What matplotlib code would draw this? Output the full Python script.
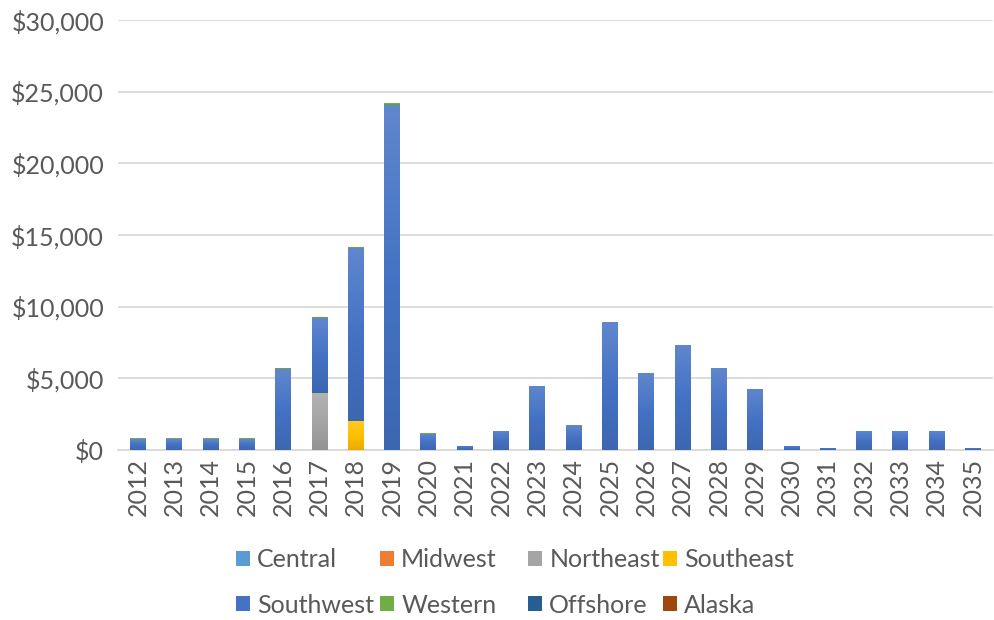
import matplotlib
matplotlib.use("Agg")
import matplotlib.pyplot as plt
import matplotlib.colors as mcolors
import numpy as np

years = [str(y) for y in range(2012, 2036)]
central   = [0]*24
midwest   = [0]*24
northeast = [0,0,0,0,0,4000,0,0,0,0,0,0,0,0,0,0,0,0,0,0,0,0,0,0]
southeast = [0,0,0,0,0,0,2000,0,0,0,0,0,0,0,0,0,0,0,0,0,0,0,0,0]
southwest = [750,750,750,750,5650,5200,12100,24080,1140,280,1330,4470,1740,8930,5370,7330,5720,4260,300,140,1330,1330,1330,140]
western   = [60,60,60,60,100,80,80,150,60,0,0,0,0,0,0,0,0,0,0,0,0,0,0,0]
offshore  = [0]*24
alaska    = [0]*24

series = [("Central", central, "#5B9BD5"), ("Midwest", midwest, "#ED7D31"),
          ("Northeast", northeast, "#A5A5A5"), ("Southeast", southeast, "#FFC000"),
          ("Southwest", southwest, "#4472C4"), ("Western", western, "#70AD47"),
          ("Offshore", offshore, "#255E91"), ("Alaska", alaska, "#9E480E")]

plt.rcParams['font.family'] = ['Lato', 'DejaVu Sans']
fig = plt.figure(figsize=(9.95, 6.2), dpi=100)
ax = fig.add_axes([118/995, 1-450/620, (993-118)/995, 430/620])

def shade(c, f):
    r = np.array(mcolors.to_rgb(c))
    if f > 0:
        return tuple(r + (1 - r) * f)
    return tuple(r * (1 + f))

x = np.arange(len(years))
bottom = np.zeros(len(years))
handles = {}
for name, vals, col in series:
    v = np.array(vals, dtype=float)
    b = ax.bar(x, v, 0.44, bottom=bottom, color=col, zorder=3, label=name)
    handles[name] = b
    cmap = mcolors.LinearSegmentedColormap.from_list(name, [shade(col, -0.1), col, shade(col, 0.15)])
    grad = np.linspace(0, 1, 64).reshape(-1, 1)
    for rect, val in zip(b.patches, v):
        if val <= 0:
            continue
        x0, y0 = rect.get_x(), rect.get_y()
        w, h = rect.get_width(), rect.get_height()
        im = ax.imshow(grad, extent=(x0, x0 + w, y0, y0 + h), origin="lower",
                       cmap=cmap, aspect="auto", zorder=3.5, interpolation="bilinear")
        im.set_clip_path(rect)
    bottom += v

ax.set_ylim(0, 30000)
ax.set_xlim(-0.55, len(years)-0.45)
ax.set_yticks(np.arange(0, 30001, 5000))
ax.set_yticklabels([f"${v:,.0f}" for v in np.arange(0, 30001, 5000)])
ax.yaxis.grid(True, color="#D9D9D9", linewidth=1.3, zorder=0)
ax.set_axisbelow(True)
for s in ["top", "right", "left"]:
    ax.spines[s].set_visible(False)
ax.spines["bottom"].set_color("#D9D9D9")
ax.spines["bottom"].set_linewidth(1.3)
ax.tick_params(axis="y", length=0, labelsize=18, labelcolor="#595959", pad=10)
ax.tick_params(axis="x", length=0, labelsize=18, labelcolor="#595959", pad=6)
ax.set_xticks(x)
ax.set_xticklabels(years, rotation=90)

columns = [["Central", "Southwest"], ["Midwest", "Western"],
           ["Northeast", "Offshore"], ["Southeast", "Alaska"]]
col_x = [236, 380, 528, 663]
for names, cx in zip(columns, col_x):
    leg = fig.legend([handles[n] for n in names], names, ncol=1, loc="center left",
                     bbox_to_anchor=(cx/995, 1-582.5/620), frameon=False,
                     fontsize=18, handlelength=0.55, handleheight=0.55,
                     handletextpad=0.3, labelspacing=0.9, borderpad=0, borderaxespad=0)
    for t in leg.get_texts():
        t.set_color("#595959")

fig.savefig("out.png", dpi=100)
